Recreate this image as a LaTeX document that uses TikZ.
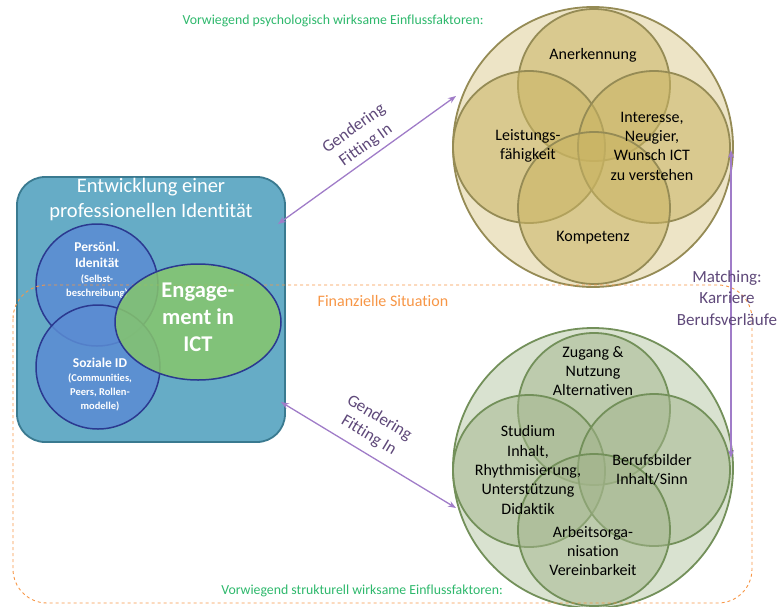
\documentclass[tikz,border=0pt]{standalone}
\usepackage{fontspec}
\setmainfont{Carlito}[Ligatures=NoCommon]
\usetikzlibrary{arrows.meta,shapes.geometric}
\definecolor{boxfill}{HTML}{66ACC6}
\definecolor{boxdraw}{HTML}{3A7A90}
\definecolor{bluefill}{HTML}{5B8CD3}
\definecolor{bluedraw}{HTML}{2B3990}
\definecolor{greenfill}{HTML}{86C66C}
\definecolor{topouter}{HTML}{EDE4C6}
\definecolor{topinner}{HTML}{C9B462}
\definecolor{topdraw}{HTML}{958B55}
\definecolor{botouter}{HTML}{D9E2D0}
\definecolor{botinner}{HTML}{A3B58C}
\definecolor{botdraw}{HTML}{73905A}
\definecolor{orangec}{HTML}{F79646}
\definecolor{greentext}{HTML}{2EB86C}
\definecolor{purpleline}{HTML}{A07CC8}
\definecolor{purpletext}{HTML}{5F497A}
\begin{document}
\begin{tikzpicture}[x=1pt,y=-1pt,
  circ/.style={circle,inner sep=0pt,minimum size=#1},
  topc/.style={circ=152,draw=topdraw,line width=1.8pt,fill=topinner,fill opacity=0.55},
  botc/.style={circ=152,draw=botdraw,line width=1.8pt,fill=botinner,fill opacity=0.5},
  lbl/.style={align=center,text=black,inner sep=0pt,font=\fontsize{16}{19.3}\selectfont},
  purplearrow/.style={draw=purpleline,line width=1.3pt,{Stealth[length=8pt,width=6pt]}-{Stealth[length=8pt,width=6pt]}},
  purplelbl/.style={align=center,text=purpletext,inner sep=0pt,font=\fontsize{17}{20.5}\selectfont},
  greenlbl/.style={text=greentext,inner sep=0pt,font=\fontsize{13.8}{16}\selectfont},
  whitebold/.style={align=center,text=white,inner sep=0pt,font=\bfseries\fontsize{13.5}{16}\selectfont},
  whitesmall/.style={align=center,text=white,inner sep=0pt,font=\bfseries\fontsize{10.5}{14}\selectfont}
]
\useasboundingbox (0,0) rectangle (779,606);

% ---------- top cluster ----------
\node[circ=280,draw=topdraw,line width=1.8pt,fill=topouter] (topouter) at (593,147) {};
\node[topc] (tA) at (594,85) {};
\node[topc] (tL) at (529,147) {};
\node[topc] (tR) at (654,147) {};
\node[topc] (tK) at (594,208) {};
\node[lbl] (anerk) at (593,55) {Anerkennung};
\node[lbl] (leist) at (528,146) {Leistungs-\\fähigkeit};
\node[lbl] (inter) at (652,146) {Interesse,\\Neugier,\\Wunsch ICT\\zu verstehen};
\node[lbl] (komp) at (593,238) {Kompetenz};

% ---------- bottom cluster ----------
\node[circ=280,draw=botdraw,line width=1.8pt,fill=botouter] (botouter) at (593,468) {};
\node[botc] (bZ) at (594,409) {};
\node[botc] (bS) at (529,471) {};
\node[botc] (bB) at (654,470) {};
\node[botc] (bA) at (594,530) {};
\node[lbl] (zugang) at (593,371) {Zugang \&\\Nutzung\\Alternativen};
\node[lbl] (stud) at (528,470) {Studium\\Inhalt,\\Rhythmisierung,\\Unterstützung\\Didaktik};
\node[lbl] (beruf) at (652,470) {Berufsbilder\\Inhalt/Sinn};
\node[lbl] (arb) at (593,551) {Arbeitsorga-\\nisation\\Vereinbarkeit};

% ---------- left box ----------
\draw[fill=boxfill,draw=boxdraw,line width=1.8pt,rounded corners=28pt] (17,177) rectangle (285,442);
\node[align=center,text=white,inner sep=0pt,font=\fontsize{20.5}{25}\selectfont] (title) at (151,200) {Entwicklung einer\\professionellen Identität};
\node[circ=122,draw=bluedraw,line width=1.5pt,fill=bluefill,fill opacity=0.85] (pers) at (97,285) {};
\node[circ=124,draw=bluedraw,line width=1.5pt,fill=bluefill,fill opacity=0.85] (soz) at (98,367) {};
\node[whitebold] (perstitle) at (97,255) {Persönl.\\Idenität};
\node[whitesmall] (perssub) at (97,286) {(Selbst-\\beschreibung)};
\node[whitebold] (soztitle) at (100,363) {Soziale ID};
\node[whitesmall] (sozsub) at (100,392) {(Communities,\\Peers, Rollen-\\modelle)};

% ---------- orange dashed region ----------
\draw[orangec,dashed,line width=0.9pt,rounded corners=34pt] (13,285) rectangle (752,603);
\node[text=orangec,inner sep=0pt,font=\fontsize{16}{18}\selectfont] (fin) at (383,301) {Finanzielle Situation};

% ---------- engagement ellipse ----------
\node[ellipse,inner sep=0pt,minimum width=166,minimum height=116,draw=bluedraw,line width=1.5pt,fill=greenfill,fill opacity=0.85] (eng) at (198,322) {};
\node[align=center,text=white,inner sep=0pt,font=\bfseries\fontsize{22.5}{27}\selectfont] (engtext) at (198,317) {Engage-\\ment in\\ICT};

% ---------- headers ----------
\node[greenlbl] (hdrtop) at (333,21) {Vorwiegend psychologisch wirksame Einflussfaktoren:};
\node[greenlbl] (hdrbot) at (362,591) {Vorwiegend strukturell wirksame Einflussfaktoren:};

% ---------- arrows ----------
\coordinate (a1s) at (278,224);
\coordinate (a1e) at (456,96);
\coordinate (a2s) at (281,402);
\coordinate (a2e) at (456,508);
\coordinate (a3s) at (731,150);
\coordinate (a3e) at (731,458);
\draw[purplearrow] (a1s) -- (a1e);
\draw[purplearrow] (a2s) -- (a2e);
\draw[purplearrow] (a3s) -- (a3e);
\node[purplelbl,rotate=35.5] (gend1) at (360,137) {Gendering\\Fitting In};
\node[purplelbl,rotate=-31] (gend2) at (374,427) {Gendering\\Fitting In};
\node[purplelbl,font=\fontsize{17}{21.5}\selectfont] (match) at (727,298) {Matching:\\Karriere\\Berufsverläufe};
\end{tikzpicture}
\end{document}
